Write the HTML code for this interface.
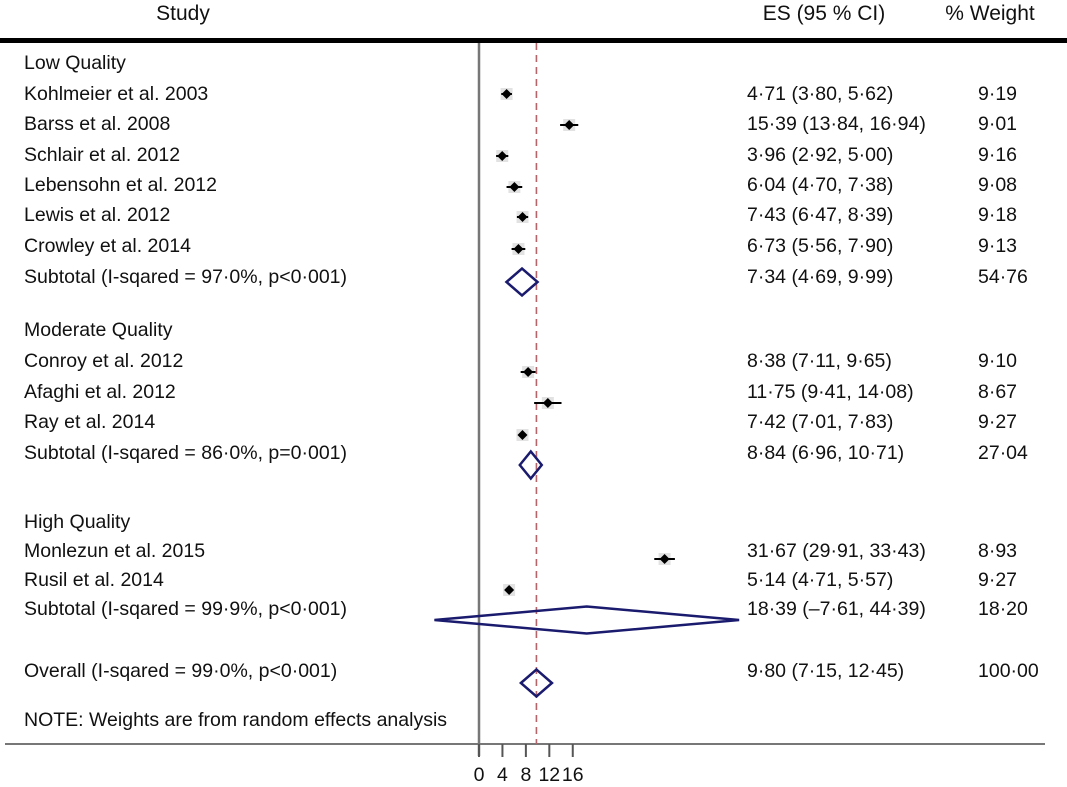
<!DOCTYPE html>
<html><head><meta charset="utf-8"><style>
html,body{margin:0;padding:0;background:#fff;width:1067px;height:787px;overflow:hidden}
svg{display:block}
text{font-family:"Liberation Sans",Arial,sans-serif;font-size:19.5px;fill:#111}
</style></head><body>
<svg id="c" width="1067" height="787">
<text x="183" y="20" text-anchor="middle" style="font-size:21px">Study</text>
<text x="824" y="20" text-anchor="middle" style="font-size:21px">ES (95 % CI)</text>
<text x="990" y="20" text-anchor="middle" style="font-size:21px">% Weight</text>
<rect x="0" y="38" width="1067" height="5" fill="#000"/>
<line x1="479" y1="43" x2="479" y2="756" stroke="#777" stroke-width="2.5"/>
<line x1="5" y1="744" x2="1045" y2="744" stroke="#777" stroke-width="2"/>
<g id="g"></g>
</svg>
<script>
const labels=["Low Quality","Kohlmeier et al. 2003","Barss et al. 2008","Schlair et al. 2012","Lebensohn et al. 2012","Lewis et al. 2012","Crowley et al. 2014","Subtotal (I-sqared = 97·0%, p<0·001)","Moderate Quality","Conroy et al. 2012","Afaghi et al. 2012","Ray et al. 2014","Subtotal (I-sqared = 86·0%, p=0·001)","High Quality","Monlezun et al. 2015","Rusil et al. 2014","Subtotal (I-sqared = 99·9%, p<0·001)","Overall (I-sqared = 99·0%, p<0·001)","NOTE: Weights are from random effects analysis"];
const kinds=["h","s","s","s","s","s","s","d","h","s","s","s","d","h","s","s","d","d","n"];
const es=[null,4.71,15.39,3.96,6.04,7.43,6.73,7.34,null,8.38,11.75,7.42,8.84,null,31.67,5.14,18.39,9.80,null];
const lo=[null,3.80,13.84,2.92,4.70,6.47,5.56,4.69,null,7.11,9.41,7.01,6.96,null,29.91,4.71,-7.61,7.15,null];
const hi=[null,5.62,16.94,5.00,7.38,8.39,7.90,9.99,null,9.65,14.08,7.83,10.71,null,33.43,5.57,44.39,12.45,null];
const weights=[null,"9·19","9·01","9·16","9·08","9·18","9·13","54·76",null,"9·10","8·67","9·27","27·04",null,"8·93","9·27","18·20","100·00",null];
const ticks=[0,4,8,12,16];
const overall=9.80;
</script>
<script>
const labelY=[62,93,123,154,184,214,245,276,329,360,391,421,452,521,550,579,608,670,719];
const markY=[0,94,125,156,187,217,249,282,0,372,403,435,465,0,559,590,620,683,0];
const X=v=>479+v*5.86;
const NS="http://www.w3.org/2000/svg";
const g=document.getElementById('g');
function mk(t,a){const e=document.createElementNS(NS,t);for(const k in a)e.setAttribute(k,a[k]);g.appendChild(e);return e;}
const fmt=v=>(v<0?"–":"")+Math.abs(v).toFixed(2).replace('.','·');
const dl=mk('line',{x1:X(overall),y1:43,x2:X(overall),y2:744,stroke:'#b5656a','stroke-width':1.6,'stroke-dasharray':'7,5'});


labels.forEach((l,i)=>{
  const t=mk('text',{x:24,y:labelY[i]+7});t.textContent=l;
  
  
  if(es[i]!==null){
    const e=mk('text',{x:747,y:labelY[i]+7});e.textContent=fmt(es[i])+" ("+fmt(lo[i])+", "+fmt(hi[i])+")";
    
    
    const w=mk('text',{x:978,y:labelY[i]+7});w.textContent=weights[i];
    
    
    const y=markY[i];
    if(kinds[i]==='s'){
      const sq=mk('rect',{x:X(es[i])-6,y:y-6,width:12,height:12,fill:'#e2e2e2'});
      
      
      const ci=mk('line',{x1:X(lo[i]),y1:y,x2:X(hi[i]),y2:y,stroke:'#000','stroke-width':2});
      
      
      const p=mk('polygon',{points:`${X(es[i])-5},${y} ${X(es[i])},${y-5} ${X(es[i])+5},${y} ${X(es[i])},${y+5}`,fill:'#000'});
      
      
    } else {
      const h=13.5;
      const d=mk('polygon',{points:`${X(lo[i])},${y} ${X(es[i])},${y-h} ${X(hi[i])},${y} ${X(es[i])},${y+h}`,fill:'none',stroke:'#1a1a6e','stroke-width':2.5});
      
      
    }
  }
});
ticks.forEach(v=>{
  const l=mk('line',{x1:X(v),y1:744,x2:X(v),y2:757,stroke:'#555','stroke-width':2});
  
  
  const t=mk('text',{x:X(v),y:781,'text-anchor':'middle'});t.textContent=v;
  
  
});
</script>
</body></html>
